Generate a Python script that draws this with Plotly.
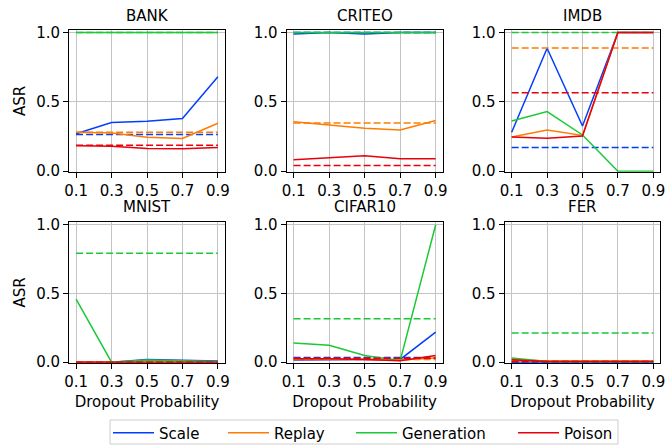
import plotly.graph_objects as go

# ---------------- data ----------------
dropout = [0.1, 0.3, 0.5, 0.7, 0.9]
x_tick_labels = ["0.1", "0.3", "0.5", "0.7", "0.9"]
y_tick_vals = [0.0, 0.5, 1.0]
y_tick_labels = ["0.0", "0.5", "1.0"]
datasets = ["BANK", "CRITEO", "IMDB", "MNIST", "CIFAR10", "FER"]
methods = ["Scale", "Replay", "Generation", "Poison"]
colors = ["#023eff", "#ff7c00", "#1ac938", "#e8000b"]

# ASR vs dropout probability (solid lines)
bank_scale = [0.27, 0.35, 0.36, 0.38, 0.68]
bank_replay = [0.28, 0.275, 0.245, 0.235, 0.345]
bank_generation = [1.0, 1.0, 1.0, 1.0, 1.0]
bank_poison = [0.184, 0.179, 0.163, 0.162, 0.171]

criteo_scale = [0.99, 1.0, 0.99, 1.0, 1.0]
criteo_replay = [0.357, 0.333, 0.309, 0.297, 0.365]
criteo_generation = [1.0, 1.0, 1.0, 1.0, 1.0]
criteo_poison = [0.082, 0.094, 0.111, 0.089, 0.089]

imdb_scale = [0.28, 0.886, 0.326, 1.0, 1.0]
imdb_replay = [0.246, 0.297, 0.258, 1.0, 1.0]
imdb_generation = [0.362, 0.43, 0.261, 0.0, 0.0]
imdb_poison = [0.246, 0.237, 0.254, 1.0, 1.0]

mnist_scale = [0.0, 0.0, 0.02, 0.015, 0.008]
mnist_replay = [0.0, 0.0, 0.0, 0.0, 0.0]
mnist_generation = [0.458, 0.0, 0.015, 0.01, 0.005]
mnist_poison = [0.0, 0.0, 0.0, 0.0, 0.0]

cifar10_scale = [0.015, 0.02, 0.02, 0.02, 0.219]
cifar10_replay = [0.025, 0.025, 0.022, 0.015, 0.031]
cifar10_generation = [0.14, 0.123, 0.048, 0.01, 1.0]
cifar10_poison = [0.024, 0.025, 0.02, 0.01, 0.048]

fer_scale = [0.0, 0.0, 0.0, 0.0, 0.0]
fer_replay = [0.02, 0.008, 0.008, 0.008, 0.008]
fer_generation = [0.031, 0.005, 0.005, 0.005, 0.005]
fer_poison = [0.017, 0.005, 0.005, 0.005, 0.005]

# baseline ASR without dropout (dashed lines): Scale, Replay, Generation, Poison
bank_baseline = [0.265, 0.28, 1.0, 0.187]
criteo_baseline = [1.0, 0.348, 1.0, 0.041]
imdb_baseline = [0.171, 0.889, 1.0, 0.565]
mnist_baseline = [0.0, 0.0, 0.793, 0.0]
cifar10_baseline = [0.034, 0.02, 0.316, 0.029]
fer_baseline = [0.0, 0.01, 0.212, 0.005]

series = {
    "BANK": [bank_scale, bank_replay, bank_generation, bank_poison],
    "CRITEO": [criteo_scale, criteo_replay, criteo_generation, criteo_poison],
    "IMDB": [imdb_scale, imdb_replay, imdb_generation, imdb_poison],
    "MNIST": [mnist_scale, mnist_replay, mnist_generation, mnist_poison],
    "CIFAR10": [cifar10_scale, cifar10_replay, cifar10_generation, cifar10_poison],
    "FER": [fer_scale, fer_replay, fer_generation, fer_poison],
}
baselines = {
    "BANK": bank_baseline, "CRITEO": criteo_baseline, "IMDB": imdb_baseline,
    "MNIST": mnist_baseline, "CIFAR10": cifar10_baseline, "FER": fer_baseline,
}

# ---------------- layout geometry ----------------
W, H = 667, 445
FONT = "DejaVu Sans"
FS = 15
col_px = [(69, 225), (286.5, 442.8), (504.6, 660.4)]
row_px = [(30, 171.7), (222.3, 362.7)]
title_shift = [3, 4]

fig = go.Figure()
legend_names = ["legend", "legend2", "legend3", "legend4"]

for i, ds in enumerate(datasets):
    r, c = divmod(i, 3)
    ax = "" if i == 0 else str(i + 1)
    xref, yref = "x" + ax, "y" + ax
    for m, name in enumerate(methods):
        fig.add_trace(go.Scatter(
            x=dropout, y=series[ds][m], mode="lines", name=name,
            line=dict(color=colors[m], width=1.5),
            xaxis=xref, yaxis=yref,
            showlegend=(i == 0), legend=legend_names[m],
        ))
        fig.add_trace(go.Scatter(
            x=dropout, y=[baselines[ds][m]] * len(dropout), mode="lines",
            name=name + " (baseline)",
            line=dict(color=colors[m], width=1.5, dash="7px,3px"),
            xaxis=xref, yaxis=yref, showlegend=False,
        ))

    x0, x1 = col_px[c]
    ytop, ybot = row_px[r]
    xd = [x0 / W, x1 / W]
    yd = [1 - ybot / H, 1 - ytop / H]
    common = dict(showline=True, mirror=True, linecolor="black", linewidth=1,
                  ticks="outside", ticklen=5, tickcolor="black", tickwidth=1,
                  showgrid=True, gridcolor="#c4c4c4", gridwidth=1,
                  zeroline=False, automargin=False,
                  tickfont=dict(family=FONT, size=FS, color="black"))
    fig.layout["xaxis" + ax] = dict(
        domain=xd, range=[0.06, 0.94], anchor=yref,
        tickvals=dropout, ticktext=x_tick_labels,
        title=dict(text="Dropout Probability" if r == 1 else "",
                   font=dict(family=FONT, size=FS, color="black"), standoff=6),
        **common)
    fig.layout["yaxis" + ax] = dict(
        domain=yd, range=[-0.004, 1.018], anchor=xref,
        tickvals=y_tick_vals, ticktext=y_tick_labels,
        title=dict(text="ASR" if c == 0 else "",
                   font=dict(family=FONT, size=FS, color="black"), standoff=6),
        **common)
    fig.add_annotation(
        text=ds, x=(xd[0] + xd[1]) / 2, y=yd[1], xref="paper", yref="paper",
        xanchor="center", yanchor="bottom", yshift=title_shift[r], showarrow=False,
        font=dict(family=FONT, size=FS, color="black"))

legend_x_px = [108, 223, 351, 513]
for m, ln in enumerate(legend_names):
    fig.layout[ln] = dict(
        x=legend_x_px[m] / W, xanchor="left", y=1 - 433 / H, yanchor="middle",
        orientation="h", bgcolor="rgba(0,0,0,0)", borderwidth=0, itemwidth=41,
        font=dict(family=FONT, size=FS, color="black"))

fig.add_shape(type="rect", xref="paper", yref="paper",
              x0=110 / W, x1=618 / W, y0=1 - 444 / H, y1=1 - 420 / H,
              line=dict(color="#cccccc", width=1), fillcolor="rgba(255,255,255,0.8)",
              layer="below")

fig.update_layout(
    width=W, height=H, margin=dict(l=0, r=0, t=0, b=0, autoexpand=False),
    paper_bgcolor="white", plot_bgcolor="white",
    font=dict(family=FONT, size=FS, color="black"),
)

fig.write_html("out.html")
